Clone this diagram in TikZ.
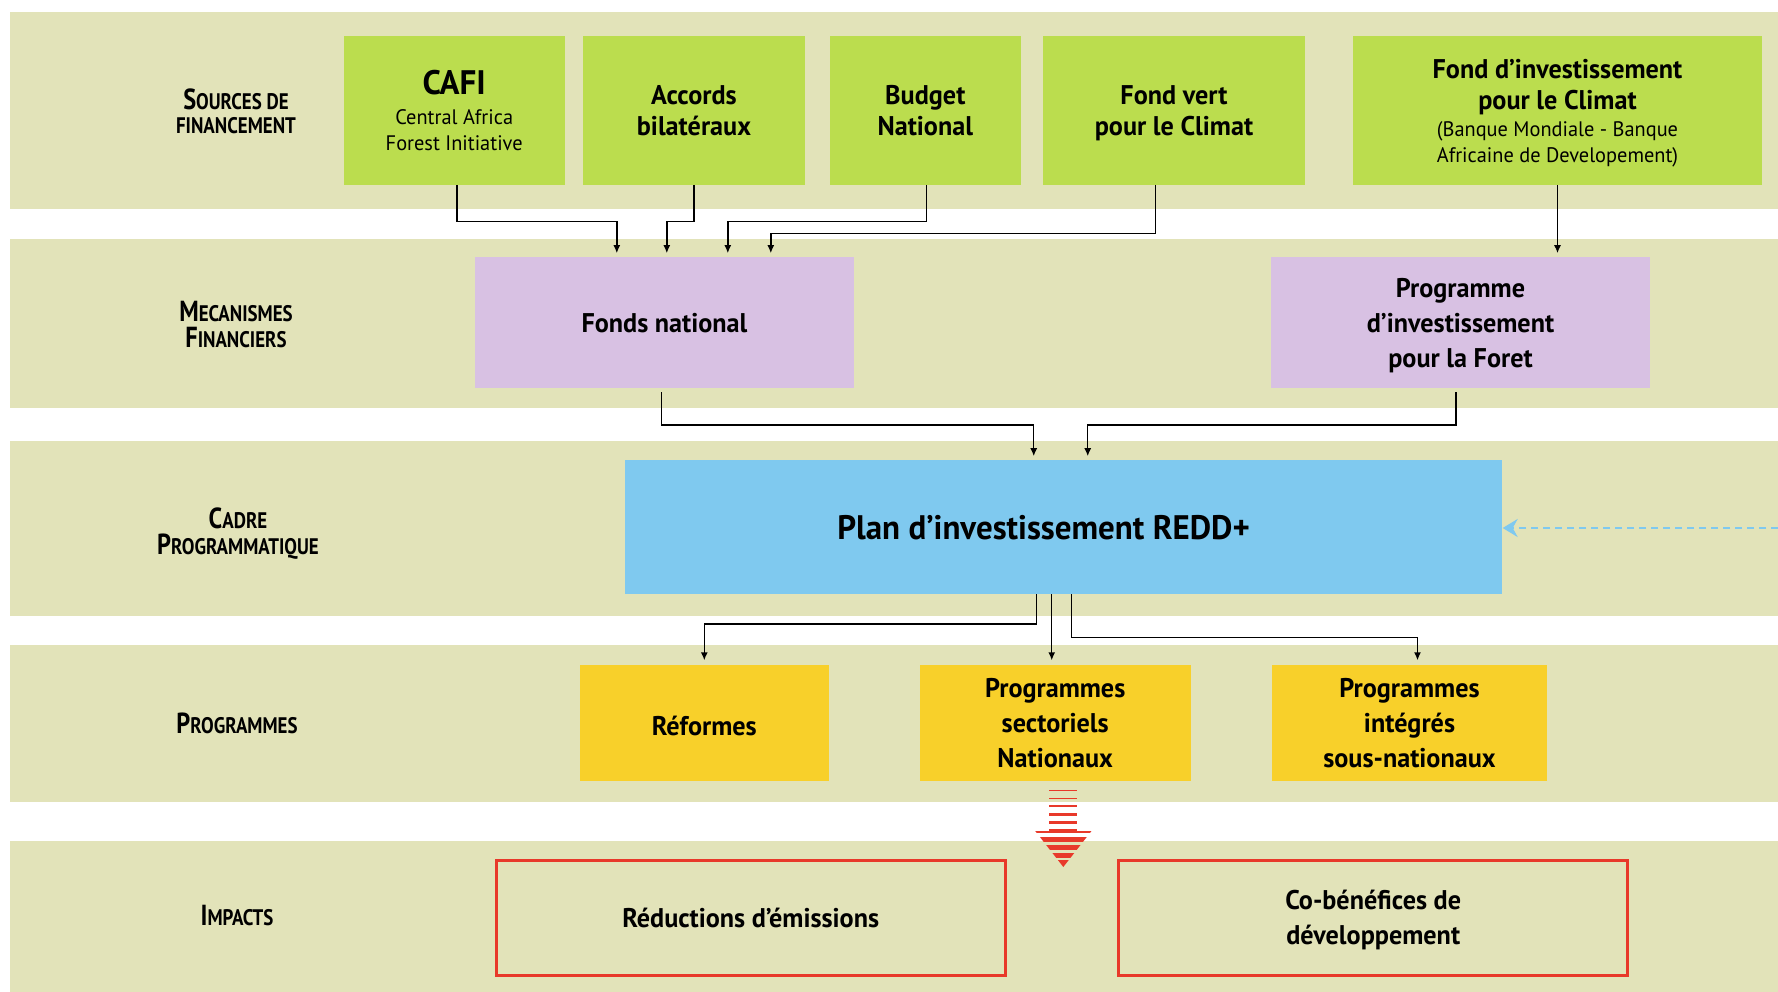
\documentclass[tikz,border=0pt]{standalone}
\usepackage{fontspec}
\setmainfont{PT Sans}[FakeStretch=0.97]
\newfontfamily\lblfont{PT Sans}[FakeStretch=0.84]
\usetikzlibrary{arrows.meta,calc}
\definecolor{bandc}{HTML}{E2E3B9}
\definecolor{greenc}{HTML}{BBDD4E}
\definecolor{purplec}{HTML}{D8C1E3}
\definecolor{bluec}{HTML}{7FC9EF}
\definecolor{yellowc}{HTML}{F8D02A}
\definecolor{redc}{HTML}{E8392A}
\newcommand{\fsc}[2]{{\fontsize{29}{26}\selectfont #1}#2}
\tikzset{
  band/.style={fill=bandc, draw=none},
  lbl/.style={font=\lblfont\bfseries\fontsize{22.5}{26}\selectfont, align=center, inner sep=0pt},
  boxbase/.style={inner sep=0pt, align=center, font=\bfseries\fontsize{27}{35}\selectfont, text=black},
  txt/.style={boxbase},
  gtxt/.style={boxbase, font=\bfseries\fontsize{27}{31}\selectfont},
  gbox/.style={boxbase, fill=greenc, font=\bfseries\fontsize{27}{31}\selectfont},
  pbox/.style={boxbase, fill=purplec},
  bbox/.style={boxbase, fill=bluec, font=\bfseries\fontsize{34}{40}\selectfont},
  ybox/.style={boxbase, fill=yellowc},
  rbox/.style={boxbase, draw=redc, line width=3pt},
  conn/.style={draw=black, line width=1.4pt, -{Latex[length=8pt,width=7pt]}, shorten >=4pt},
  dashconn/.style={draw=bluec, line width=2.5pt, dash pattern=on 7pt off 5pt, -{Stealth[length=15pt,width=18pt,inset=5pt]}},
  stripe/.style={fill=redc, draw=none}
}
\begin{document}
\begin{tikzpicture}[x=1pt,y=-1pt]
\useasboundingbox (0,0) rectangle (1778,992);
\fill[white] (0,0) rectangle (1778,992);
% bands
\fill[band] (10,12.5) rectangle (1778,209);
\fill[band] (10,239) rectangle (1778,408);
\fill[band] (10,441) rectangle (1778,616);
\fill[band] (10,645) rectangle (1778,802);
\fill[band] (10,841) rectangle (1778,992);
% row labels
\node[lbl] (l1) at (236,111) {\fsc{S}{OURCES DE}\\[-2pt]FINANCEMENT};
\node[lbl] (l2) at (236,325) {\fsc{M}{ECANISMES}\\\fsc{F}{INANCIERS}};
\node[lbl] (l3) at (238,534) {\fsc{C}{ADRE}\\\fsc{P}{ROGRAMMATIQUE}};
\node[lbl] (l4) at (237,723) {\fsc{P}{ROGRAMMES}};
\node[lbl] (l5) at (237,916) {\fsc{I}{MPACTS}};
% sources
\node[gbox, minimum width=221pt, minimum height=148.5pt] (cafi) at (454.2,110.5)
  {{\fontsize{34}{36}\selectfont CAFI}\\[-1pt]{\mdseries\fontsize{21}{26}\selectfont Central Africa}\\[-5pt]{\mdseries\fontsize{21}{26}\selectfont Forest Initiative}};
\node[gbox, minimum width=222pt, minimum height=148.5pt] (acc) at (694,110.5) {Accords\\bilatéraux};
\node[gbox, minimum width=190.6pt, minimum height=148.5pt] (bud) at (925.3,110.5) {Budget\\National};
\node[gbox, minimum width=262pt, minimum height=148.5pt] (fv) at (1174,110.5) {};
\node[gtxt] (fvt) at ($(fv.center)+(0,2.3)$) {Fond vert\\pour le Climat};
\node[gbox, minimum width=409.4pt, minimum height=148.5pt] (fi) at (1557.5,110.5) {};
\node[gtxt] (fit) at ($(fi.center)+(0,2.3)$)
  {Fond d’investissement\\pour le Climat\\[-4pt]{\mdseries\fontsize{21}{26}\selectfont (Banque Mondiale - Banque}\\[-5pt]{\mdseries\fontsize{21}{26}\selectfont Africaine de Developement)}};
% mechanisms
\node[pbox, minimum width=379pt, minimum height=130.4pt] (fn) at (664.5,322.6) {Fonds national};
\node[pbox, minimum width=379pt, minimum height=130.4pt] (pi) at (1460.5,322.6) {};
\node[txt] (pit) at ($(pi.center)+(0,3.4)$) {Programme\\d’investissement\\pour la Foret};
% plan
\node[bbox, minimum width=877.7pt, minimum height=133.8pt] (plan) at (1063.6,527.3) {\hspace*{-40pt}Plan d’investissement REDD+};
% programmes
\node[ybox, minimum width=249.5pt, minimum height=116.8pt] (ref) at (704.3,722.9) {};
\node[txt] (reft) at ($(ref.center)+(0,3.4)$) {Réformes};
\node[ybox, minimum width=271pt, minimum height=116.8pt] (sect) at (1055.2,722.9) {Programmes\\sectoriels\\Nationaux};
\node[ybox, minimum width=274.5pt, minimum height=116.8pt] (int) at (1409.5,722.9) {Programmes\\intégrés\\sous-nationaux};
% impacts
\node[rbox, minimum width=509pt, minimum height=115pt] (red) at (750.7,918) {Réductions d’émissions};
\node[rbox, minimum width=509pt, minimum height=115pt] (cob) at (1373.2,918) {};
\node[txt] (cobt) at ($(cob.center)+(0,2.3)$) {Co-bénéfices de\\développement};
% connectors sources -> mechanisms
\draw[conn] ($(cafi.south)+(2.8,0)$) -- ++(0,36.5) -| ($(fn.north west)+(142,0)$);
\draw[conn] (acc.south) -- ++(0,36.5) -| ($(fn.north west)+(192,0)$);
\draw[conn] ($(bud.south)+(1.2,0)$) -- ++(0,36.5) -| ($(fn.north west)+(253,0)$);
\draw[conn] ($(fv.south)+(-18.5,0)$) -- ++(0,48.5) -| ($(fn.north west)+(296,0)$);
\draw[conn] (fi.south) -- (fi.south |- pi.north);
% mechanisms -> plan
\draw[conn] ($(fn.south)+(-2.8,4)$) -- ++(0,33) -| ($(plan.north west)+(409.2,0)$);
\draw[conn] ($(pi.south)+(-4.5,4)$) -- ++(0,33) -| ($(plan.north west)+(463.2,0)$);
% plan -> programmes
\coordinate (p1) at ($(plan.south west)+(411.7,0)$);
\coordinate (p2) at ($(plan.south west)+(427.2,0)$);
\coordinate (p3) at ($(plan.south west)+(446.8,0)$);
\draw[conn] (p1) -- ++(0,29.5) -| (ref.north);
\draw[conn] (p2) -- (p2 |- sect.north);
\draw[conn] (p3) -- ++(0,42.8) -| ($(int.north)+(8,0)$);
% dashed arrow from the right edge
\coordinate (dstart) at (1778,528);
\draw[dashconn] (dstart) -- (dstart -| plan.east);
% striped red arrow
\begin{scope}
\fill[stripe] (1049,789.8) rectangle (1077,790.9);
\fill[stripe] (1049,797.5) rectangle (1077,798.9);
\fill[stripe] (1049,805.3) rectangle (1077,807.1);
\fill[stripe] (1049,813.3) rectangle (1077,815.7);
\fill[stripe] (1049,821.3) rectangle (1077,824.1);
\fill[stripe] (1049,828.8) rectangle (1077,831);
\end{scope}
\begin{scope}
\clip (1035,830.7) -- (1091.7,830.7) -- (1063.3,867) -- cycle;
\fill[stripe] (1030,830.7) rectangle (1095,832.7);
\fill[stripe] (1030,836.7) rectangle (1095,842.3);
\fill[stripe] (1030,844.7) rectangle (1095,850);
\fill[stripe] (1030,852.7) rectangle (1095,858.3);
\fill[stripe] (1030,860.3) rectangle (1095,868);
\end{scope}
\end{tikzpicture}
\end{document}
